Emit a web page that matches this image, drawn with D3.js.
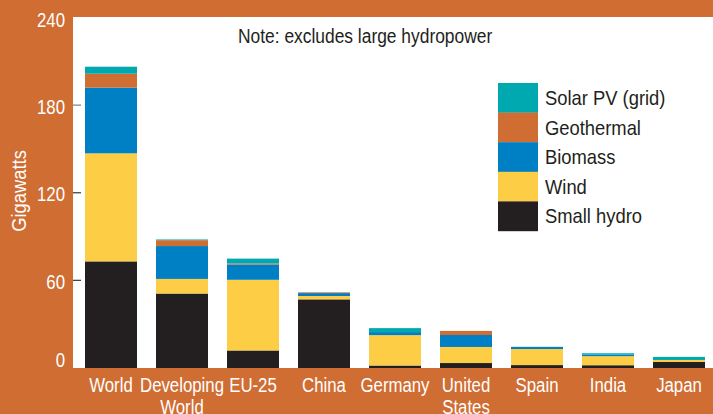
<!DOCTYPE html>
<html>
<head>
<meta charset="utf-8">
<script src="https://cdn.jsdelivr.net/npm/d3@7"></script>
<style>
  html, body { margin: 0; padding: 0; background: #CF6D33; }
  svg { display: block; }
  text { font-family: "Liberation Sans", Arial, sans-serif; }
</style>
</head>
<body>
<svg id="chart" width="713" height="414"></svg>
<script>
const categories = ["World", "Developing World", "EU-25", "China", "Germany", "United States", "Spain", "India", "Japan"];
const seriesNames = ["Small hydro", "Wind", "Biomass", "Geothermal", "Solar PV (grid)"];
const smallHydro = [73, 51, 12, 47, 1.7, 3.4, 2, 1.9, 4.1];
const wind = [74, 10, 48.4, 2.3, 20.8, 11, 11, 6.2, 1.4];
const biomass = [45, 22.5, 10.5, 2, 2.1, 8.2, 1.4, 1.2, 0];
const geothermal = [9.5, 4, 0.7, 0.5, 0, 2.8, 0, 0, 0];
const solarPV = [4.8, 0.5, 3.3, 0, 2.7, 0, 0.1, 0.8, 2.1];
const yTicks = [0, 60, 120, 180, 240];
const colors = ["#231F20", "#FDCE45", "#0080C4", "#CF6D33", "#00A9B0"];

const seriesValues = [smallHydro, wind, biomass, geothermal, solarPV];
const rows = categories.map((c, i) => {
  const r = { category: c };
  seriesNames.forEach((s, j) => r[s] = seriesValues[j][i]);
  return r;
});
const stacked = d3.stack().keys(seriesNames)(rows);

const svg = d3.select("#chart");
const W = 713, H = 414;
const plotLeft = 73, plotTop = 17, plotBottom = 368;

const x = d3.scaleBand().domain(categories).range([75.5, 714.5])
  .paddingInner(0.2676).paddingOuter(0.1338);
const y = d3.scaleLinear().domain([0, 240]).range([368, 17.5]);
const color = d3.scaleOrdinal().domain(seriesNames).range(colors);

// background
svg.append("rect").attr("x", 0).attr("y", 0).attr("width", W).attr("height", H).attr("fill", "#CF6D33");
svg.append("rect").attr("x", plotLeft).attr("y", plotTop).attr("width", W - plotLeft).attr("height", plotBottom - plotTop).attr("fill", "#FFFFFF");

// bars
svg.append("g").selectAll("g").data(stacked).join("g")
  .attr("fill", d => color(d.key))
  .selectAll("rect").data(d => d).join("rect")
  .attr("x", d => x(d.data.category))
  .attr("width", x.bandwidth())
  .attr("y", d => y(d[1]))
  .attr("height", d => y(d[0]) - y(d[1]));

// y axis
const yAxis = svg.append("g").attr("transform", `translate(${plotLeft},0)`)
  .call(d3.axisLeft(y).tickValues(yTicks).tickSize(0).tickPadding(8));
yAxis.select(".domain").remove();
yAxis.selectAll(".tick text")
  .attr("x", 0)
  .attr("transform", "translate(-8,0) scale(0.82,1)")
  .attr("fill", "#FFFFFF").attr("font-size", 20.5)
  .attr("dy", d => d === 0 ? "-0.05em" : d === 240 ? "0.45em" : "0.4em");
// small inner tick marks
svg.append("g").selectAll("line").data(yTicks.filter(t => t > 0 && t < 240)).join("line")
  .attr("x1", plotLeft).attr("x2", plotLeft + 8)
  .attr("y1", d => y(d)).attr("y2", d => y(d))
  .attr("stroke", d => d === 180 ? "#888" : "#444").attr("stroke-width", 1.3);

// y title
svg.append("text")
  .attr("transform", `translate(26,191) rotate(-90) scale(0.92,1)`)
  .attr("text-anchor", "middle")
  .attr("fill", "#FFFFFF").attr("font-size", 20)
  .text("Gigawatts");

// x labels
const xAxis = svg.append("g").attr("transform", `translate(0,${plotBottom})`)
  .call(d3.axisBottom(x).tickSize(0).tickFormat(""));
xAxis.select(".domain").remove();
xAxis.selectAll(".tick").each(function(d) {
  const words = d.split(" ");
  const t = d3.select(this).append("text")
    .attr("transform", "scale(0.8,1)")
    .attr("fill", "#FFFFFF").attr("font-size", 21).attr("text-anchor", "middle");
  words.forEach((w, i) => {
    t.append("tspan").attr("x", 0).attr("y", 24.5 + i * 22).text(w);
  });
});

// note
svg.append("text")
  .attr("transform", "translate(238,42.5) scale(0.87,1)")
  .attr("fill", "#231F20").attr("font-size", 20)
  .text("Note: excludes large hydropower");

// legend
const legendOrder = seriesNames.slice().reverse();
const lg = svg.append("g").attr("transform", "translate(498,83)");
const item = lg.selectAll("g").data(legendOrder).join("g")
  .attr("transform", (d, i) => `translate(0,${i * 29.6})`);
item.append("rect").attr("width", 40).attr("height", 29.8).attr("fill", d => color(d));
item.append("text")
  .attr("transform", "translate(47,22) scale(0.875,1)")
  .attr("fill", "#231F20").attr("font-size", 21)
  .text(d => d);
</script>
</body>
</html>
